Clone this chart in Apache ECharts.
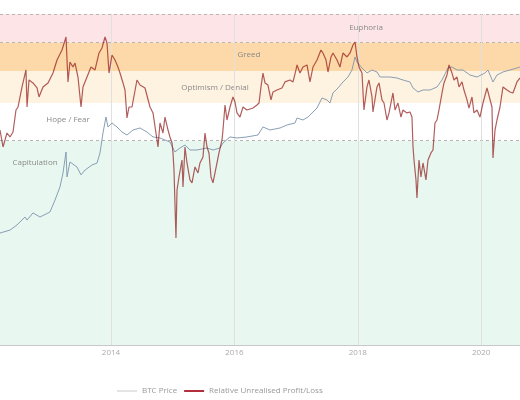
<!DOCTYPE html>
<html><head><meta charset="utf-8">
<script src="https://cdn.jsdelivr.net/npm/echarts@6/dist/echarts.min.js"></script>
<style>html,body{margin:0;padding:0;background:#fff}#c{width:520px;height:400px}</style>
</head><body><div id="c"></div>
<script>
const xTicks = [2014, 2016, 2018, 2020];
const xRange = [2012.201, 2020.629];

const nuplYears = [2012.201,2012.250,2012.314,2012.363,2012.412,2012.460,2012.493,2012.558,2012.622,2012.639,2012.671,2012.736,2012.801,2012.833,2012.898,2012.979,2013.060,2013.125,2013.206,2013.271,2013.303,2013.335,2013.384,2013.417,2013.465,2013.514,2013.546,2013.611,2013.676,2013.741,2013.806,2013.854,2013.903,2013.935,2013.968,2014.016,2014.065,2014.113,2014.146,2014.195,2014.227,2014.259,2014.292,2014.340,2014.421,2014.470,2014.551,2014.632,2014.681,2014.729,2014.762,2014.794,2014.843,2014.875,2014.924,2014.956,2014.989,2015.005,2015.021,2015.053,2015.070,2015.102,2015.151,2015.167,2015.199,2015.232,2015.280,2015.313,2015.361,2015.410,2015.442,2015.491,2015.523,2015.556,2015.588,2015.621,2015.653,2015.718,2015.750,2015.799,2015.815,2015.848,2015.880,2015.929,2015.977,2016.010,2016.042,2016.091,2016.139,2016.204,2016.301,2016.366,2016.399,2016.431,2016.463,2016.496,2016.544,2016.593,2016.626,2016.690,2016.771,2016.820,2016.901,2016.950,2016.998,2017.015,2017.063,2017.112,2017.177,2017.225,2017.274,2017.339,2017.403,2017.436,2017.485,2017.517,2017.566,2017.598,2017.663,2017.711,2017.760,2017.825,2017.874,2017.922,2017.955,2017.987,2018.019,2018.068,2018.100,2018.149,2018.181,2018.230,2018.246,2018.311,2018.344,2018.392,2018.425,2018.473,2018.506,2018.570,2018.603,2018.651,2018.700,2018.732,2018.797,2018.846,2018.878,2018.895,2018.911,2018.943,2018.959,2018.992,2019.024,2019.057,2019.105,2019.138,2019.186,2019.219,2019.251,2019.284,2019.316,2019.365,2019.397,2019.446,2019.478,2019.527,2019.559,2019.608,2019.640,2019.689,2019.721,2019.770,2019.802,2019.851,2019.883,2019.932,2019.980,2020.029,2020.094,2020.126,2020.175,2020.191,2020.224,2020.256,2020.305,2020.353,2020.418,2020.467,2020.515,2020.580,2020.629];
const nuplValues = [-0.018,-0.167,-0.044,-0.079,-0.035,0.158,0.184,0.360,0.509,0.184,0.421,0.395,0.351,0.272,0.360,0.395,0.482,0.596,0.684,0.798,0.404,0.579,0.535,0.570,0.447,0.184,0.360,0.447,0.535,0.509,0.658,0.702,0.798,0.746,0.482,0.640,0.596,0.535,0.482,0.395,0.333,0.088,0.184,0.184,0.421,0.377,0.351,0.184,0.132,-0.044,-0.167,0.044,-0.044,0.096,-0.018,-0.079,-0.132,-0.219,-0.368,-0.965,-0.544,-0.430,-0.281,-0.518,-0.167,-0.307,-0.456,-0.482,-0.342,-0.395,-0.307,-0.254,-0.044,-0.167,-0.219,-0.430,-0.482,-0.307,-0.219,-0.105,-0.018,0.202,0.070,0.184,0.272,0.228,0.132,0.096,0.184,0.158,0.175,0.202,0.219,0.360,0.482,0.395,0.377,0.246,0.316,0.333,0.351,0.404,0.421,0.404,0.509,0.553,0.482,0.535,0.553,0.404,0.535,0.596,0.684,0.658,0.596,0.491,0.623,0.658,0.596,0.535,0.658,0.623,0.658,0.728,0.754,0.623,0.535,0.482,0.158,0.360,0.421,0.272,0.140,0.360,0.395,0.246,0.219,0.070,0.132,0.307,0.158,0.219,0.096,0.158,0.132,0.140,0.096,-0.167,-0.281,-0.456,-0.614,-0.281,-0.430,-0.307,-0.456,-0.281,-0.219,-0.193,0.044,0.070,0.158,0.307,0.395,0.465,0.553,0.482,0.421,0.447,0.360,0.404,0.333,0.246,0.175,0.272,0.132,0.158,0.096,0.219,0.351,0.360,0.184,-0.263,-0.018,0.070,0.184,0.360,0.333,0.316,0.307,0.404,0.439];

const btcYears = [2012.201,2012.363,2012.477,2012.606,2012.639,2012.736,2012.849,2013.011,2013.092,2013.173,2013.222,2013.271,2013.287,2013.335,2013.449,2013.514,2013.579,2013.692,2013.773,2013.822,2013.870,2013.919,2013.951,2014.016,2014.097,2014.178,2014.259,2014.357,2014.470,2014.583,2014.681,2014.794,2014.956,2015.037,2015.118,2015.199,2015.280,2015.394,2015.556,2015.653,2015.767,2015.815,2015.929,2016.042,2016.204,2016.382,2016.463,2016.577,2016.739,2016.852,2016.982,2017.015,2017.112,2017.193,2017.258,2017.339,2017.420,2017.501,2017.549,2017.598,2017.679,2017.760,2017.841,2017.906,2017.955,2017.987,2018.068,2018.149,2018.230,2018.311,2018.360,2018.522,2018.635,2018.732,2018.846,2018.895,2018.976,2019.057,2019.170,2019.284,2019.365,2019.462,2019.527,2019.608,2019.705,2019.818,2019.932,2020.061,2020.110,2020.191,2020.256,2020.353,2020.467,2020.580,2020.629];
const btcPrices = [5.5,6.3,8.0,11.5,10.0,13.9,11.5,14.5,25,46,87,230,73,145,115,80,100,126,138,220,551,1152,727,874,727,577,503,633,694,577,459,438,364,230,276,317,252,252,276,252,276,348,459,438,459,503,727,633,694,797,874,1100,1003,1152,1385,1743,2763,2520,2195,3479,4379,5773,7268,10032,18260,14500,11000,8737,10032,9150,7268,7268,6941,6329,5773,4379,3642,3994,3994,4586,6329,11000,11518,10032,10032,7968,7268,8737,10032,5773,7968,9150,10032,11000,11518];
const btcRange = [0.0317, 132200];

const zoneNames = ['Euphoria', 'Greed', 'Optimism / Denial', 'Hope / Fear', 'Capitulation'];
const zoneTop = [1, 0.75, 0.5, 0.219, -0.114];
const zoneBottom = [0.75, 0.5, 0.219, -0.114, -1.904];
const dashedLevels = [1, 0.75, -0.114];

// styling
const zoneColors = ['#fde4e7', '#fdd9a9', '#fef2e1', '#ffffff', '#e8f8f0'];
const zoneLabelPos = [[366, 14], [249, 12], [215, 17], [68, 17], [35, 22]];
const FONT = '"Open Sans", sans-serif';

const chart = echarts.init(document.getElementById('c'), null, { renderer: 'canvas' });

const nuplData = nuplYears.map((x, i) => [x, nuplValues[i]]);
const btcData = btcYears.map((x, i) => [x, btcPrices[i]]);

const markAreaData = zoneNames.map((n, i) => [
  {
    name: n,
    yAxis: zoneTop[i],
    itemStyle: { color: zoneColors[i] },
    label: { position: zoneLabelPos[i] }
  },
  { yAxis: zoneBottom[i] }
]);

chart.setOption({
  animation: false,
  backgroundColor: '#fff',
  textStyle: { fontFamily: FONT },
  grid: { left: 0, right: 0, top: 14, bottom: 55 },
  legend: {
    left: 112,
    top: 382,
    itemWidth: 20,
    itemHeight: 10,
    itemGap: 7,
    textStyle: { color: '#999', fontSize: 8, fontFamily: FONT },
    data: [
      { name: 'BTC Price', icon: 'path://M0,0H20V1H0Z', itemStyle: { color: '#c8c8c8' } },
      { name: 'Relative Unrealised Profit/Loss', icon: 'path://M0,0H20V2H0Z', itemStyle: { color: '#b2303e' } }
    ]
  },
  xAxis: {
    type: 'value',
    z: 2,
    min: xRange[0],
    max: xRange[1],
    axisLine: { show: true, onZero: false, lineStyle: { color: '#c8c8c8', width: 1 } },
    axisTick: { show: false, customValues: xTicks },
    axisLabel: {
      customValues: xTicks,
      color: '#aaa',
      fontSize: 8,
      fontFamily: FONT,
      margin: 4,
      formatter: v => String(Math.round(v))
    },
    splitLine: { show: true, lineStyle: { color: '#e0e0e0', width: 1 } }
  },
  yAxis: [
    {
      type: 'value',
      min: zoneBottom[zoneBottom.length - 1],
      max: zoneTop[0],
      show: false,
      splitLine: { show: false }
    },
    {
      type: 'log',
      min: btcRange[0],
      max: btcRange[1],
      show: false,
      splitLine: { show: false }
    }
  ],
  series: [
    {
      name: 'BTC Price',
      type: 'line',
      yAxisIndex: 1,
      data: btcData,
      symbol: 'none',
      z: 3,
      lineStyle: { color: '#7d95ad', width: 1, opacity: 0.9 },
      itemStyle: { color: '#7d95ad' }
    },
    {
      name: 'Relative Unrealised Profit/Loss',
      type: 'line',
      yAxisIndex: 0,
      data: nuplData,
      symbol: 'none',
      z: 4,
      lineStyle: { color: 'rgba(140,18,18,0.68)', width: 1.2 },
      itemStyle: { color: '#8c1212' },
      markArea: {
        silent: true,
        z: 1,
        label: {
          show: true,
          color: '#8a8a8a',
          fontSize: 8,
          fontFamily: FONT,
          align: 'center',
          verticalAlign: 'middle'
        },
        data: markAreaData
      },
      markLine: {
        silent: true,
        z: 1,
        symbol: 'none',
        label: { show: false },
        lineStyle: { color: '#b5b5b5', type: [3, 3], width: 1 },
        data: dashedLevels.map(v => ({ yAxis: v }))
      }
    }
  ]
});
</script>
</body></html>
